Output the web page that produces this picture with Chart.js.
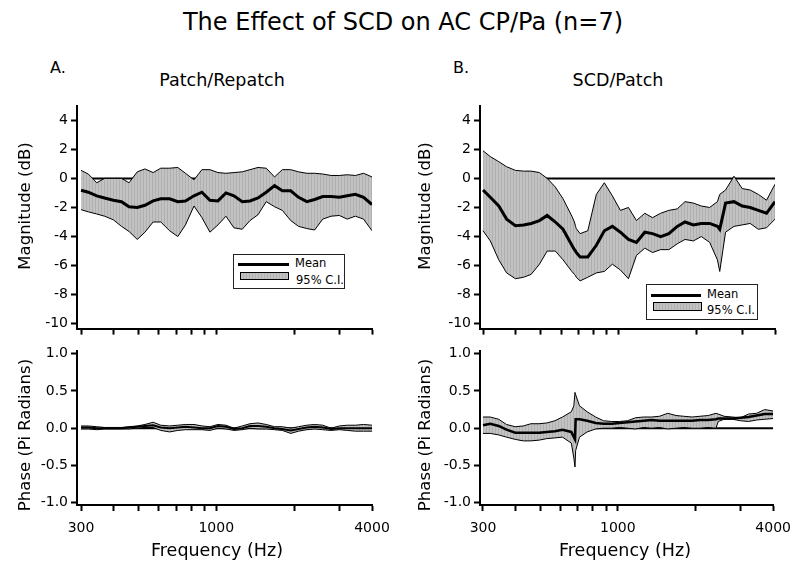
<!DOCTYPE html>
<html>
<head>
<meta charset="utf-8">
<script src="https://cdn.jsdelivr.net/npm/chart.js@4.4.0/dist/chart.umd.min.js"></script>
<style>
  body { margin: 0; background: #fff; }
  #page { position: relative; width: 800px; height: 566px; overflow: hidden; font-family: "DejaVu Sans", sans-serif; color: #000; }
  .panel { position: absolute; }
  .c { position: absolute; white-space: nowrap; transform: translate(-50%, -50%); line-height: 1.2; }
  .l { position: absolute; white-space: nowrap; transform: translateY(-50%); line-height: 1.2; }
  .rot { position: absolute; white-space: nowrap; transform: translate(-50%, -50%) rotate(-90deg); line-height: 1.2; font-size: 16.5px; }
  .legend { position: absolute; border: 1px solid #222; background: #fff; }
  .lg-line { position: absolute; background: #000; }
  .lg-patch { position: absolute; border: 1px solid #000; background: repeating-linear-gradient(90deg, #c2c2c2 0 2px, #b0b0b0 2px 3px); }
</style>
</head>
<body>
<div id="page">
  <div class="c" style="left:403px; top:22px; font-size:24px;">The Effect of SCD on AC CP/Pa (n=7)</div>
  <div class="l" style="left:50px; top:68px; font-size:16px;">A.</div>
  <div class="c" style="left:222px; top:80px; font-size:17.5px;">Patch/Repatch</div>
  <div class="l" style="left:453px; top:68px; font-size:16px;">B.</div>
  <div class="c" style="left:618px; top:80px; font-size:17.5px;">SCD/Patch</div>

  <div class="panel" style="left:0; top:95px;"><canvas id="magA" width="400" height="245"></canvas></div>
  <div class="panel" style="left:400px; top:95px;"><canvas id="magB" width="400" height="245"></canvas></div>
  <div class="panel" style="left:0; top:340px;"><canvas id="phA" width="400" height="226"></canvas></div>
  <div class="panel" style="left:400px; top:340px;"><canvas id="phB" width="400" height="226"></canvas></div>

  <div class="rot" style="left:25px; top:206px;">Magnitude (dB)</div>
  <div class="rot" style="left:25px; top:435px;">Phase (Pi Radians)</div>
  <div class="rot" style="left:425px; top:206px;">Magnitude (dB)</div>
  <div class="rot" style="left:425px; top:435px;">Phase (Pi Radians)</div>
  <div class="c" style="left:217px; top:550px; font-size:17.5px;">Frequency (Hz)</div>
  <div class="c" style="left:625px; top:550px; font-size:17.5px;">Frequency (Hz)</div>

  <!-- legend, panel A -->
  <div class="legend" style="left:233px; top:254px; width:110px; height:33px;"></div>
  <div class="lg-line" style="left:238px; top:263px; width:51px; height:2.5px;"></div>
  <div class="lg-patch" style="left:240px; top:272px; width:47px; height:6px;"></div>
  <div class="l" style="left:295px; top:264px; font-size:11.5px;">Mean</div>
  <div class="l" style="left:296px; top:281px; font-size:11.5px;">95% C.I.</div>

  <!-- legend, panel B -->
  <div class="legend" style="left:646px; top:284px; width:110px; height:34px;"></div>
  <div class="lg-line" style="left:651px; top:294px; width:50px; height:2.5px;"></div>
  <div class="lg-patch" style="left:653px; top:302px; width:47px; height:7px;"></div>
  <div class="l" style="left:707px; top:295px; font-size:11.5px;">Mean</div>
  <div class="l" style="left:707px; top:311px; font-size:11.5px;">95% C.I.</div>
</div>

<script>
// Frequencies (Hz) the curves are sampled at
const freqA = [300, 320, 345, 370, 400, 430, 460, 495, 530, 570, 610, 660, 710, 760, 820, 880, 945, 1015, 1090, 1170,
               1260, 1350, 1450, 1560, 1680, 1800, 1940, 2080, 2240, 2400, 2580, 2780, 2990, 3210, 3450, 3710, 4000];
const freqB = [300, 320, 345, 370, 400, 430, 460, 495, 530, 570, 610, 660, 675, 682, 686, 710, 760, 820, 880, 945,
               1015, 1090, 1170, 1260, 1350, 1450, 1560, 1680, 1800, 1940, 2080, 2240, 2400, 2450, 2580, 2780, 2990,
               3210, 3450, 3710, 4000];

// A. Patch/Repatch - magnitude (dB)
const magMeanA = [-0.82, -0.95, -1.2, -1.35, -1.5, -1.6, -1.95, -2.0, -1.85, -1.55, -1.4, -1.4, -1.6, -1.55, -1.2, -0.95,
                  -1.5, -1.55, -1.0, -1.2, -1.6, -1.55, -1.35, -0.95, -0.5, -0.85, -0.85, -1.3, -1.6, -1.45, -1.25,
                  -1.25, -1.3, -1.2, -1.1, -1.3, -1.8];
const magUpA = [0.55, 0.3, -0.3, 0.0, 0.0, 0.0, -0.3, 0.45, 0.65, 0.4, 0.7, 0.7, 0.75, 0.35, -0.1, 0.6, 0.6, 0.4, 0.35,
                0.4, 0.45, 0.6, 0.75, 0.7, 0.1, 0.6, 0.6, 0.45, 0.35, 0.35, 0.3, 0.2, 0.2, 0.25, 0.2, 0.35, 0.1];
const magLowA = [-2.15, -2.3, -2.45, -2.6, -2.85, -3.3, -3.65, -4.2, -3.7, -3.0, -3.0, -3.6, -4.0, -3.2, -1.9, -2.7,
                 -3.7, -3.2, -2.6, -3.4, -3.5, -2.9, -2.5, -1.6, -1.95, -2.2, -2.9, -3.3, -3.45, -3.55, -2.8, -2.6,
                 -2.55, -2.8, -2.6, -2.8, -3.6];

// A. Patch/Repatch - phase (pi radians)
const phMeanA = [0.01, 0.01, 0.0, 0.0, 0.0, 0.0, 0.01, 0.02, 0.03, 0.04, 0.01, 0.0, 0.01, 0.02, 0.01, 0.0, 0.0, 0.03,
                 0.02, -0.01, 0.0, 0.03, 0.03, 0.02, 0.0, -0.01, -0.03, -0.01, 0.01, 0.02, 0.01, -0.01, 0.0, 0.0, 0.0,
                 0.0, 0.0];
const phUpA = [0.03, 0.03, 0.02, 0.01, 0.01, 0.01, 0.02, 0.03, 0.05, 0.08, 0.04, 0.03, 0.04, 0.05, 0.05, 0.03, 0.02,
               0.05, 0.04, 0.0, 0.03, 0.06, 0.07, 0.05, 0.02, 0.02, 0.0, 0.02, 0.04, 0.05, 0.04, 0.0, 0.03, 0.04, 0.04,
               0.05, 0.04];
const phLowA = [-0.01, -0.01, -0.02, -0.01, -0.01, -0.01, -0.01, 0.0, 0.01, 0.01, -0.03, -0.05, -0.03, -0.02, -0.02,
                -0.02, -0.03, 0.0, -0.01, -0.03, -0.02, 0.0, -0.01, -0.01, -0.02, -0.03, -0.07, -0.04, -0.02, -0.01,
                -0.02, -0.03, -0.02, -0.03, -0.04, -0.04, -0.04];

// B. SCD/Patch - magnitude (dB)
const magMeanB = [-0.8, -1.3, -1.9, -2.8, -3.25, -3.2, -3.1, -2.9, -2.55, -3.0, -3.5, -4.6, -4.9, -5.0, -5.1, -5.4,
                  -5.4, -4.6, -3.6, -3.3, -3.7, -4.2, -4.4, -3.7, -3.8, -4.0, -3.8, -3.3, -3.0, -3.2, -3.1, -3.1,
                  -3.3, -3.5, -1.7, -1.6, -1.9, -2.0, -2.2, -2.4, -1.6];
const magUpB = [1.9, 1.5, 1.15, 0.8, 0.55, 0.5, 0.5, 0.4, 0.0, -0.6, -1.4, -2.6, -3.0, -3.3, -3.45, -3.8, -3.6, -1.1,
                -0.3, -1.2, -2.2, -2.0, -2.9, -2.4, -2.7, -2.4, -2.2, -2.1, -1.6, -1.7, -1.9, -2.0, -1.6, -1.1, -0.8,
                0.15, -0.7, -0.8, -1.1, -1.5, -0.4];
const magLowB = [-3.6, -4.3, -5.6, -6.5, -6.9, -6.8, -6.6, -5.9, -5.0, -5.0, -5.6, -6.4, -6.6, -6.7, -6.8, -7.05, -6.8,
                 -6.5, -6.4, -5.9, -6.3, -6.9, -5.3, -4.8, -5.1, -4.9, -4.9, -4.5, -4.2, -4.3, -4.0, -4.4, -5.6, -6.4,
                 -3.7, -3.3, -3.2, -3.1, -3.5, -3.4, -2.8];

// B. SCD/Patch - phase (pi radians)
const phMeanB = [0.04, 0.06, 0.03, -0.02, -0.06, -0.06, -0.06, -0.06, -0.05, -0.04, -0.02, -0.05, -0.12, -0.15, 0.12,
                 0.12, 0.1, 0.07, 0.06, 0.06, 0.07, 0.08, 0.09, 0.1, 0.11, 0.1, 0.1, 0.1, 0.1, 0.1, 0.11, 0.11, 0.12,
                 0.13, 0.13, 0.13, 0.14, 0.15, 0.17, 0.19, 0.19];
const phUpB = [0.15, 0.15, 0.12, 0.05, 0.02, 0.03, 0.06, 0.06, 0.07, 0.1, 0.15, 0.22, 0.3, 0.48, 0.45, 0.3, 0.22, 0.15,
               0.1, 0.09, 0.09, 0.1, 0.14, 0.15, 0.15, 0.16, 0.2, 0.17, 0.16, 0.15, 0.16, 0.17, 0.2, 0.19, 0.16, 0.15,
               0.14, 0.19, 0.2, 0.25, 0.23];
const phLowB = [-0.07, -0.07, -0.09, -0.12, -0.15, -0.17, -0.17, -0.16, -0.14, -0.13, -0.12, -0.2, -0.4, -0.52, -0.3,
                -0.12, -0.05, -0.01, 0.0, 0.0, 0.01, 0.0, -0.01, 0.01, 0.0, 0.01, -0.01, 0.0, 0.01, 0.0, 0.0, 0.01,
                0.0, 0.09, 0.12, 0.12, 0.1, 0.09, 0.11, 0.12, 0.13];

// Axis ticks
const xTicks = [300, 400, 500, 600, 700, 800, 900, 1000, 2000, 3000, 4000];
const xLabels = [300, 1000, 4000];
const magTicks = [-10, -8, -6, -4, -2, 0, 2, 4];
const phaseTicks = [-1, -0.5, 0, 0.5, 1];

// light gray with faint vertical stripes for the 95% C.I. band
function stripePattern() {
    const c = document.createElement('canvas');
    c.width = 3; c.height = 1;
    const g = c.getContext('2d');
    g.fillStyle = '#c2c2c2'; g.fillRect(0, 0, 2, 1);
    g.fillStyle = '#b0b0b0'; g.fillRect(2, 0, 1, 1);
    return g.createPattern(c, 'repeat');
}
const stripes = stripePattern();
const tickFont = { family: 'DejaVu Sans', size: 14 };

function makePanel(id, freq, mean, up, low, cfg) {
    const pts = arr => freq.map((f, i) => ({ x: f, y: arr[i] }));
    const zero = [{ x: freq[0], y: 0 }, { x: freq[freq.length - 1], y: 0 }];

    return new Chart(document.getElementById(id), {
        type: 'line',
        data: {
            datasets: [
                { label: 'Mean', data: pts(mean), borderColor: '#000', borderWidth: cfg.meanWidth, pointRadius: 0, order: 1 },
                { label: 'lower', data: pts(low), borderColor: '#000', borderWidth: 1, pointRadius: 0, order: 2 },
                { label: '95% C.I.', data: pts(up), borderColor: '#000', borderWidth: 1, pointRadius: 0,
                  fill: 1, backgroundColor: stripes, order: 3 },
                { label: 'zero', data: zero, borderColor: '#000', borderWidth: 2, pointRadius: 0, order: 4 }
            ]
        },
        options: {
            responsive: false,
            animation: false,
            layout: { padding: { left: 0, right: cfg.padRight, top: cfg.padTop, bottom: 0 } },
            plugins: { legend: { display: false }, tooltip: { enabled: false } },
            scales: {
                x: {
                    type: 'logarithmic',
                    min: cfg.xMin,
                    max: 4000,
                    afterBuildTicks: s => { s.ticks = xTicks.map(v => ({ value: v })); },
                    afterFit: s => { s.height = cfg.xHeight; },
                    ticks: {
                        autoSkip: false, maxRotation: 0, padding: 9, color: '#000', font: tickFont,
                        callback: v => (cfg.xText && xLabels.includes(v)) ? String(v) : ''
                    },
                    grid: { drawOnChartArea: false, drawTicks: true, tickLength: 6, tickColor: '#000', tickWidth: 2 },
                    border: { display: true, color: '#000', width: 2 }
                },
                y: {
                    min: cfg.yMin,
                    max: cfg.yMax,
                    afterBuildTicks: s => { s.ticks = cfg.yTicks.map(v => ({ value: v })); },
                    afterFit: s => { s.width = cfg.yWidth; },
                    ticks: { padding: 3, color: '#000', font: tickFont, callback: cfg.fmt },
                    grid: { drawOnChartArea: false, drawTicks: true, tickLength: 6, tickColor: '#000', tickWidth: 2 },
                    border: { display: true, color: '#000', width: 2 }
                }
            }
        }
    });
}

const magFmt = v => String(v);
const phFmt = v => v.toFixed(1);

document.addEventListener('DOMContentLoaded', function () {
    makePanel('magA', freqA, magMeanA, magUpA, magLowA, {
        meanWidth: 3, padRight: 28, padTop: 10, xHeight: 7, yWidth: 77, xMin: 289.4, xText: false,
        yMin: -10.33, yMax: 4.95, yTicks: magTicks, fmt: magFmt
    });
    makePanel('magB', freqB, magMeanB, magUpB, magLowB, {
        meanWidth: 3, padRight: 25, padTop: 10, xHeight: 7, yWidth: 80, xMin: 292.1, xText: false,
        yMin: -10.33, yMax: 4.95, yTicks: magTicks, fmt: magFmt
    });
    makePanel('phA', freqA, phMeanA, phUpA, phLowA, {
        meanWidth: 2, padRight: 28, padTop: 11, xHeight: 61, yWidth: 77, xMin: 289.4, xText: true,
        yMin: -1.03, yMax: 1.03, yTicks: phaseTicks, fmt: phFmt
    });
    makePanel('phB', freqB, phMeanB, phUpB, phLowB, {
        meanWidth: 2.5, padRight: 25, padTop: 11, xHeight: 61, yWidth: 80, xMin: 292.1, xText: true,
        yMin: -1.03, yMax: 1.03, yTicks: phaseTicks, fmt: phFmt
    });
});
</script>
</body>
</html>
